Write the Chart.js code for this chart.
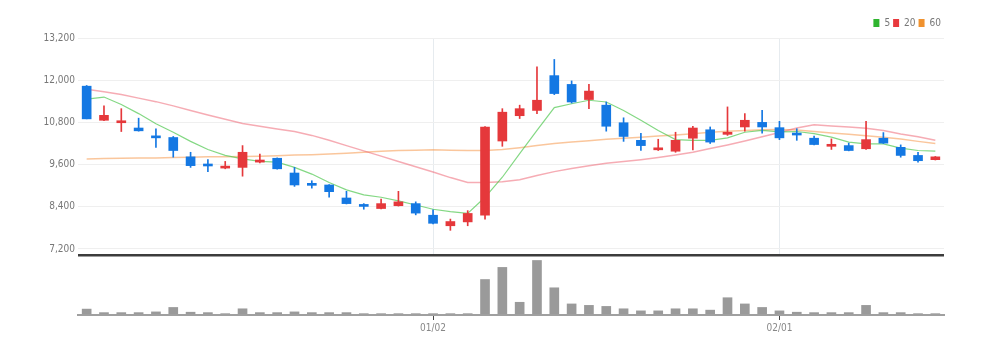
<!DOCTYPE html>
<html>
<head>
<meta charset="utf-8">
<script src="https://cdn.jsdelivr.net/npm/chart.js@4"></script>
<style>
  html, body { margin: 0; padding: 0; background: #fff; }
  #wrap { position: relative; width: 994px; height: 354px; }
  #priceBox { position: absolute; left: 0; top: 0; width: 994px; height: 265px; }
  #volBox { position: absolute; left: 0; top: 250px; width: 994px; height: 104px; }
</style>
</head>
<body>
<div id="wrap">
  <div id="priceBox"><canvas id="price"></canvas></div>
  <div id="volBox"><canvas id="volume"></canvas></div>
</div>
<script>
// trading days
const dates = [
  "11/30","12/01","12/04","12/05","12/06","12/07","12/08","12/11","12/12","12/13",
  "12/14","12/15","12/18","12/19","12/20","12/21","12/22","12/26","12/27","12/28",
  "01/02","01/03","01/04","01/05","01/08","01/09","01/10","01/11","01/12","01/15",
  "01/16","01/17","01/18","01/19","01/22","01/23","01/24","01/25","01/26","01/29",
  "02/01","02/02","02/05","02/06","02/07","02/08","02/13","02/14","02/15","02/16"
];
const tickLabels = ["01/02", "02/01"];
const priceTicks = [7200, 8400, 9600, 10800, 12000, 13200];

const opens  = [11830,10860,10790,10640,10390,10370,9820,9590,9500,9520,
                9670,9780,9360,9040,9020,8650,8430,8350,8430,8490,
                8160,7860,7970,8160,10270,10990,11140,12130,11880,11450,
                11290,10790,10290,10020,9980,10350,10590,10460,10670,10800,
                10650,10470,10350,10120,10140,10050,10350,10090,9860,9740];
const highs  = [11850,11270,11190,10920,10620,10400,9950,9740,9690,10140,
                9900,9790,9520,9140,9030,8840,8490,8620,8840,8540,
                8310,8050,8290,10680,11190,11290,12380,12590,11980,11880,
                11380,10930,10490,10320,10520,10690,10670,11240,11050,11140,
                10830,10620,10410,10330,10210,10830,10510,10160,9950,9830];
const lows   = [10900,10850,10540,10550,10090,9810,9520,9400,9480,9270,
                9650,9470,8980,8930,8670,8480,8330,8340,8420,8170,
                7910,7730,7860,8050,10120,10910,11050,11590,11350,11190,
                10550,10260,10000,10000,9950,10020,10200,10430,10550,10490,
                10310,10290,10160,10030,9990,10030,10200,9810,9670,9730];
const closes = [10900,11000,10820,10560,10360,10000,9570,9560,9550,9950,
                9730,9480,9020,9010,8830,8490,8410,8490,8540,8220,
                7930,7980,8210,10670,11090,11190,11430,11620,11380,11690,
                10690,10400,10140,10060,10290,10640,10240,10520,10860,10670,
                10360,10440,10170,10160,10000,10310,10210,9860,9710,9820];

const ma5  = [11460,11520,11310,11050,10760,10520,10260,10030,9860,9760,
              9690,9670,9520,9330,9090,8880,8740,8670,8570,8450,
              8330,8260,8210,8670,9240,9910,10570,11220,11330,11430,
              11380,11140,10860,10570,10310,10290,10290,10360,10520,10570,
              10530,10540,10480,10380,10240,10190,10190,10070,10000,9980];
const ma20 = [11740,11670,11590,11490,11390,11270,11140,11010,10890,10770,
              10690,10610,10540,10430,10290,10140,9990,9840,9690,9540,
              9390,9230,9090,9090,9110,9170,9290,9400,9490,9570,
              9640,9690,9740,9800,9870,9950,10060,10160,10270,10390,
              10510,10640,10730,10700,10670,10630,10570,10470,10390,10290];
const ma60 = [9760,9770,9780,9790,9790,9800,9810,9820,9820,9830,
              9840,9850,9870,9880,9900,9920,9950,9980,10000,10010,
              10020,10010,10000,10000,10030,10080,10140,10200,10240,10280,
              10320,10350,10380,10410,10440,10480,10520,10550,10570,10590,
              10600,10580,10540,10500,10460,10420,10380,10330,10260,10200];

const volumes = [285000,115000,115000,115000,150000,365000,135000,115000,65000,300000,
                 115000,115000,150000,115000,115000,115000,65000,65000,65000,65000,
                 65000,65000,65000,1715000,2300000,615000,2635000,1315000,535000,465000,
                 415000,300000,200000,200000,300000,300000,235000,835000,535000,365000,
                 200000,135000,115000,115000,115000,465000,115000,115000,65000,65000];

const maNames = ["5", "20", "60"];

const RED = "#e5383b";
const BLUE = "#1478e3";
const candleColors = opens.map((o, i) => (closes[i] >= o ? RED : BLUE));
const FONT = "'Liberation Sans Narrow', 'DejaVu Sans Condensed', 'Liberation Sans', Arial, sans-serif";
const AXIS_W = 78;
const RIGHT_PAD = 50;

Chart.defaults.animation = false;
Chart.defaults.font.family = FONT;

const fixWidth = (scale) => { scale.width = AXIS_W; };

const priceChart = new Chart(document.getElementById("price"), {
  type: "bar",
  data: {
    labels: dates,
    datasets: [
      { type: "line", label: maNames[0], data: ma5, borderColor: "rgba(80,200,80,0.7)", backgroundColor: "#2fb52f",
        borderWidth: 1.2, pointRadius: 0, tension: 0, order: 2 },
      { type: "line", label: maNames[1], data: ma20, borderColor: "rgba(238,90,105,0.5)", backgroundColor: "#e8393d",
        borderWidth: 1.5, pointRadius: 0, tension: 0, order: 2 },
      { type: "line", label: maNames[2], data: ma60, borderColor: "rgba(246,160,90,0.6)", backgroundColor: "#f0922f",
        borderWidth: 1.5, pointRadius: 0, tension: 0, order: 2 },
      { label: "wick", data: lows.map((l, i) => [l, highs[i]]), backgroundColor: candleColors,
        barThickness: 1, grouped: false, order: 1 },
      { label: "body", data: opens.map((o, i) => [o, closes[i]]), backgroundColor: candleColors,
        barThickness: 9, minBarLength: 2, grouped: false, order: 0 }
    ]
  },
  options: {
    responsive: true,
    maintainAspectRatio: false,
    layout: { padding: { top: 15, right: RIGHT_PAD, left: 0, bottom: 0 } },
    plugins: {
      tooltip: { enabled: false },
      legend: {
        position: "top",
        align: "end",
        labels: {
          boxWidth: 6,
          boxHeight: 8,
          padding: 3,
          color: "#777",
          font: { size: 10 },
          generateLabels: (chart) => chart.data.datasets.slice(0, 3).map((ds, i) => ({
            text: ds.label,
            fillStyle: ds.backgroundColor,
            strokeStyle: ds.backgroundColor,
            lineWidth: 0,
            fontColor: "#777",
            datasetIndex: i,
            hidden: false
          }))
        }
      }
    },
    scales: {
      x: {
        offset: true,
        ticks: { display: false, autoSkip: false },
        border: { display: false },
        grid: {
          offset: false,
          drawTicks: false,
          color: (ctx) => (ctx.tick && tickLabels.includes(dates[ctx.tick.value]) ? "#e6ebef" : "rgba(0,0,0,0)")
        }
      },
      y: {
        min: 7000,
        max: 13200,
        afterBuildTicks: (scale) => { scale.ticks = priceTicks.map((v) => ({ value: v })); },
        afterFit: fixWidth,
        border: { display: false },
        grid: { color: "#efefef", drawTicks: false },
        ticks: {
          padding: 3,
          color: "#777",
          font: { size: 10 },
          callback: (v) => Number(v).toLocaleString("en-US")
        }
      }
    }
  }
});

const volMax = 2900000;
const volumeChart = new Chart(document.getElementById("volume"), {
  type: "bar",
  data: {
    labels: dates,
    datasets: [
      { label: "volume", data: volumes, backgroundColor: "#9a9a9a", barThickness: 9 }
    ]
  },
  options: {
    responsive: true,
    maintainAspectRatio: false,
    layout: { padding: { top: 5, right: RIGHT_PAD, left: 0, bottom: 18 } },
    plugins: { legend: { display: false }, tooltip: { enabled: false } },
    scales: {
      x: {
        offset: true,
        border: { display: true, color: "#a0a0a0", width: 2 },
        grid: {
          offset: false,
          drawOnChartArea: false,
          drawTicks: true,
          tickLength: 5,
          color: (ctx) => (ctx.tick && tickLabels.includes(dates[ctx.tick.value]) ? "#444" : "rgba(0,0,0,0)")
        },
        ticks: {
          autoSkip: false,
          maxRotation: 0,
          padding: 2,
          color: "#888",
          font: { size: 10 },
          callback: (v, i) => (tickLabels.includes(dates[i]) ? dates[i] : "")
        }
      },
      y: {
        min: 0,
        max: volMax,
        afterBuildTicks: (scale) => { scale.ticks = [{ value: 0 }, { value: volMax }]; },
        afterFit: fixWidth,
        border: { display: false },
        ticks: { display: false },
        grid: {
          drawTicks: false,
          lineWidth: 2.5,
          color: (ctx) => (ctx.tick && ctx.tick.value === volMax ? "#3c3c3c" : "rgba(0,0,0,0)")
        }
      }
    }
  }
});
</script>
</body>
</html>
